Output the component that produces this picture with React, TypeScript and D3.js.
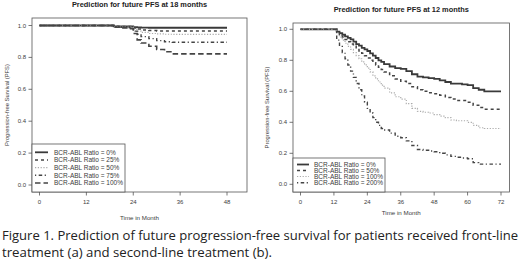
import React from "react";
import * as d3 from "d3";

// ---------- Data ----------
const leftTitle = "Prediction for future PFS at 18 months";
const rightTitle = "Prediction for future PFS at 12 months";
const xTitle = "Time in Month";
const yTitle = "Progression-free Survival (PFS)";

const leftXTicks = [0, 12, 24, 36, 48];
const rightXTicks = [0, 12, 24, 36, 48, 60, 72];
const yTicks = [0, 0.2, 0.4, 0.6, 0.8, 1.0];

const leftLabels = [
  "BCR-ABL Ratio = 0%",
  "BCR-ABL Ratio = 25%",
  "BCR-ABL Ratio = 50%",
  "BCR-ABL Ratio = 75%",
  "BCR-ABL Ratio = 100%",
];
const leftTimes = [0, 19, 21, 23, 24, 25, 26, 28, 30, 32, 34, 48];
const left0 = [1, 0.995, 0.995, 0.995, 0.99, 0.988, 0.987, 0.986, 0.986, 0.986, 0.986, 0.986];
const left25 = [1, 0.995, 0.993, 0.993, 0.985, 0.978, 0.972, 0.968, 0.966, 0.965, 0.965, 0.965];
const left50 = [1, 0.993, 0.99, 0.99, 0.975, 0.965, 0.957, 0.95, 0.947, 0.945, 0.944, 0.944];
const left75 = [1, 0.99, 0.988, 0.985, 0.965, 0.945, 0.93, 0.918, 0.905, 0.898, 0.895, 0.895];
const left100 = [1, 0.99, 0.985, 0.98, 0.95, 0.91, 0.89, 0.87, 0.85, 0.835, 0.822, 0.822];

const rightLabels = [
  "BCR-ABL Ratio = 0%",
  "BCR-ABL Ratio = 50%",
  "BCR-ABL Ratio = 100%",
  "BCR-ABL Ratio = 200%",
];
const rightTimes = [0, 12, 13, 14, 15, 16, 17, 18, 19, 20, 21, 22, 23, 24, 25, 26, 27, 28, 29, 30, 32, 34, 36, 38, 40, 42, 44, 46, 48, 50, 52, 54, 56, 58, 60, 62, 64, 66, 72];
const right0 = [1, 1, 0.985, 0.975, 0.965, 0.955, 0.945, 0.935, 0.92, 0.905, 0.895, 0.88, 0.87, 0.86, 0.845, 0.83, 0.815, 0.8, 0.79, 0.775, 0.76, 0.75, 0.745, 0.73, 0.71, 0.695, 0.69, 0.685, 0.68, 0.67, 0.66, 0.65, 0.65, 0.645, 0.64, 0.62, 0.61, 0.6, 0.6];
const right50 = [1, 1, 0.98, 0.965, 0.95, 0.935, 0.92, 0.905, 0.89, 0.875, 0.86, 0.845, 0.83, 0.815, 0.8, 0.785, 0.77, 0.755, 0.74, 0.725, 0.7, 0.68, 0.665, 0.65, 0.63, 0.61, 0.6, 0.59, 0.585, 0.575, 0.56, 0.55, 0.54, 0.54, 0.53, 0.51, 0.495, 0.485, 0.48];
const right100 = [1, 1, 0.97, 0.95, 0.93, 0.91, 0.89, 0.87, 0.85, 0.83, 0.81, 0.79, 0.77, 0.75, 0.725, 0.7, 0.68, 0.66, 0.64, 0.62, 0.59, 0.565, 0.55, 0.52, 0.49, 0.47, 0.465, 0.46, 0.45, 0.44, 0.43, 0.415, 0.41, 0.41, 0.4, 0.38, 0.365, 0.36, 0.36];
const right200 = [1, 1, 0.93, 0.89, 0.85, 0.81, 0.77, 0.73, 0.69, 0.65, 0.61, 0.57, 0.53, 0.49, 0.46, 0.43, 0.4, 0.38, 0.36, 0.35, 0.33, 0.31, 0.3, 0.28, 0.25, 0.225, 0.22, 0.215, 0.21, 0.2, 0.19, 0.18, 0.175, 0.17, 0.165, 0.14, 0.13, 0.13, 0.13];

const caption1 = "Figure 1. Prediction of future progression-free survival for patients received front-line";
const caption2 = "treatment (a) and second-line treatment (b).";

// ---------- Styles ----------
type Sty = { stroke: string; width: number; dash?: string };
const solid: Sty = { stroke: "#3a3a3a", width: 1.8 };
const dashed: Sty = { stroke: "#444", width: 1.5, dash: "3,3" };
const dotted: Sty = { stroke: "#aaa", width: 1.2, dash: "1.2,1.6" };
const dotdash: Sty = { stroke: "#444", width: 1.4, dash: "1.2,2.5,3.5,2.5" };
const longdash: Sty = { stroke: "#444", width: 1.6, dash: "5.5,3" };

const FONT = "Liberation Sans, Arial, sans-serif";
const INK = "#3c3c3c";

type PanelProps = {
  box: [number, number, number, number];
  xDomain: [number, number];
  xRange: [number, number];
  yRange: [number, number];
  xTicks: number[];
  title: string;
  titleY: number;
  xTitleY: number;
  yTitleX: number;
  times: number[];
  series: number[][];
  styles: Sty[];
  labels: string[];
  legend: { x1: number; y1: number; x2: number; rowY: number[]; sx1: number; sx2: number; tx: number };
};

function Panel(p: PanelProps) {
  const [bx1, by1, bx2, by2] = p.box;
  const x = d3.scaleLinear().domain(p.xDomain).range(p.xRange);
  const y = d3.scaleLinear().domain([0, 1]).range(p.yRange);
  const line = d3
    .line<[number, number]>()
    .x((d) => x(d[0]))
    .y((d) => y(d[1]))
    .curve(d3.curveStepAfter);
  const cx = (bx1 + bx2) / 2;
  const cy = (by1 + by2) / 2;
  return (
    <g>
      <text x={cx} y={p.titleY} textAnchor="middle" fontFamily={FONT} fontWeight="bold" fontSize={7.4} fill="#222">
        {p.title}
      </text>
      {p.series.map((s, i) => (
        <path
          key={i}
          d={line(p.times.map((t, j) => [t, s[j]] as [number, number])) || ""}
          fill="none"
          stroke={p.styles[i].stroke}
          strokeWidth={p.styles[i].width}
          strokeDasharray={p.styles[i].dash}
        />
      ))}
      <rect x={bx1} y={by1} width={bx2 - bx1} height={by2 - by1} fill="none" stroke="#555" strokeWidth={0.8} />
      {/* x axis */}
      {p.xTicks.map((t) => (
        <g key={t}>
          <line x1={x(t)} x2={x(t)} y1={by2} y2={by2 + 3.5} stroke="#555" strokeWidth={0.8} />
          <text x={x(t)} y={by2 + 11.5} textAnchor="middle" fontFamily={FONT} fontSize={6} fill={INK}>
            {t}
          </text>
        </g>
      ))}
      <text x={cx} y={p.xTitleY} textAnchor="middle" fontFamily={FONT} fontSize={6.2} fill={INK}>
        {xTitle}
      </text>
      {/* y axis */}
      {yTicks.map((t) => (
        <g key={t}>
          <line x1={bx1 - 3.5} x2={bx1} y1={y(t)} y2={y(t)} stroke="#555" strokeWidth={0.8} />
          <text x={bx1 - 6} y={y(t) + 2} textAnchor="end" fontFamily={FONT} fontSize={6} fill={INK}>
            {t.toFixed(1)}
          </text>
        </g>
      ))}
      <text
        transform={`translate(${p.yTitleX},${cy}) rotate(-90)`}
        textAnchor="middle"
        fontFamily={FONT}
        fontSize={5.8}
        fill={INK}
      >
        {yTitle}
      </text>
      {/* legend */}
      <rect
        x={p.legend.x1}
        y={p.legend.y1}
        width={p.legend.x2 - p.legend.x1}
        height={by2 - p.legend.y1}
        fill="white"
        stroke="#555"
        strokeWidth={0.8}
      />
      {p.labels.map((lab, i) => (
        <g key={lab}>
          <line
            x1={p.legend.sx1}
            x2={p.legend.sx2}
            y1={p.legend.rowY[i]}
            y2={p.legend.rowY[i]}
            stroke={p.styles[i].stroke}
            strokeWidth={p.styles[i].width}
            strokeDasharray={p.styles[i].dash}
          />
          <text x={p.legend.tx} y={p.legend.rowY[i] + 2.2} fontFamily={FONT} fontSize={6.5} fill={INK}>
            {lab}
          </text>
        </g>
      ))}
    </g>
  );
}

export default function App() {
  return (
    <svg
      width={520}
      height={261}
      viewBox="0 0 520 261"
      style={{ position: "absolute", left: 0, top: 0, background: "white" }}
    >
      <rect x={0} y={0} width={520} height={261} fill="white" />
      <Panel
        box={[32, 18, 247, 192]}
        xDomain={[0, 48]}
        xRange={[39.5, 227]}
        yRange={[185, 25.5]}
        xTicks={leftXTicks}
        title={leftTitle}
        titleY={7}
        xTitleY={220}
        yTitleX={9}
        times={leftTimes}
        series={[left0, left25, left50, left75, left100]}
        styles={[solid, dashed, dotted, dotdash, longdash]}
        labels={leftLabels}
        legend={{ x1: 32, y1: 144, x2: 125, rowY: [152.3, 160, 167.7, 175.3, 183], sx1: 35, sx2: 48, tx: 54 }}
      />
      <Panel
        box={[293, 23, 509.5, 192]}
        xDomain={[0, 72]}
        xRange={[300.5, 501]}
        yRange={[184.3, 29.3]}
        xTicks={rightXTicks}
        title={rightTitle}
        titleY={12}
        xTitleY={215}
        yTitleX={269}
        times={rightTimes}
        series={[right0, right50, right100, right200]}
        styles={[solid, dashed, dotted, dotdash]}
        labels={rightLabels}
        legend={{ x1: 293, y1: 158, x2: 385, rowY: [164.5, 170.5, 176.5, 182.7], sx1: 297, sx2: 309, tx: 314 }}
      />
      <text x={2} y={240} fontFamily="Open Sans, sans-serif" fontSize={13} fill="#222" textLength={516} lengthAdjust="spacingAndGlyphs">
        {caption1}
      </text>
      <text x={2} y={257} fontFamily="Open Sans, sans-serif" fontSize={13} fill="#222" textLength={270} lengthAdjust="spacingAndGlyphs">
        {caption2}
      </text>
    </svg>
  );
}
